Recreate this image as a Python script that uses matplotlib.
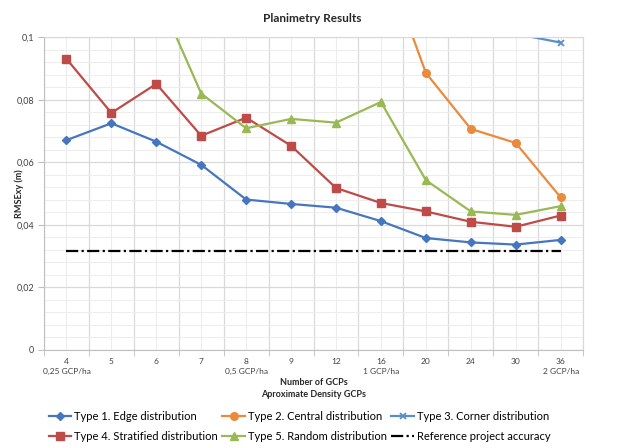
import matplotlib
matplotlib.use("Agg")
import matplotlib.pyplot as plt
from matplotlib.ticker import MultipleLocator, FixedLocator, FuncFormatter

plt.rcParams['font.family'] = ['Lato', 'DejaVu Sans']

# Number of GCPs and density labels on the x axis.
gcp_labels = ['4\n0,25 GCP/ha', '5', '6', '7', '8\n0,5 GCP/ha', '9', '12',
              '16\n1 GCP/ha', '20', '24', '30', '36\n2 GCP/ha']

# RMSExy (m) for each distribution type.
type1_edge = [0.0671, 0.0725, 0.0666, 0.0592, 0.0481, 0.0467, 0.0455,
              0.0412, 0.0358, 0.0344, 0.0337, 0.0352]
type2_central = [0.160, 0.155, 0.150, 0.145, 0.140, 0.135, 0.131,
                 0.128, 0.0886, 0.0707, 0.0662, 0.0488]
type3_corner = [0.190, 0.180, 0.170, 0.160, 0.150, 0.140, 0.130,
                0.120, 0.112, 0.106, 0.1011, 0.0983]
type4_stratified = [0.0931, 0.0758, 0.0851, 0.0685, 0.0743, 0.0653, 0.0518,
                    0.0470, 0.0443, 0.0410, 0.0394, 0.0430]
type5_random = [0.135, 0.125, 0.1146, 0.0820, 0.0709, 0.0739, 0.0727,
                0.0793, 0.0543, 0.0443, 0.0432, 0.0460]
reference_accuracy = [0.0316, 0.0316, 0.0316, 0.0316, 0.0316, 0.0316,
                      0.0316, 0.0316, 0.0316, 0.0316, 0.0316, 0.0316]

x = list(range(len(gcp_labels)))

fig = plt.figure(figsize=(6.24, 4.48), dpi=100)
ax = fig.add_axes([0.0705, 0.2188, 0.864, 0.698])

l1, = ax.plot(x, type1_edge, color='#4677BE', lw=1.6, marker='D', ms=4.2,
              label='Type 1. Edge distribution')
l2, = ax.plot(x, type2_central, color='#EB8A3D', lw=1.6, marker='o', ms=5.5,
              label='Type 2. Central distribution')
l3, = ax.plot(x, type3_corner, color='#5B8DC9', lw=1.6, marker='x', ms=5,
              mew=1.3, label='Type 3. Corner distribution')
l4, = ax.plot(x, type4_stratified, color='#BE4B48', lw=1.6, marker='s', ms=6,
              label='Type 4. Stratified distribution')
l5, = ax.plot(x, type5_random, color='#98B954', lw=1.6, marker='^', ms=6,
              label='Type 5. Random distribution')
l6, = ax.plot(x, reference_accuracy, color='black', lw=1.6,
              dashes=(5.5, 1.5, 1, 1.5), label='Reference project accuracy')

ax.set_xlim(-0.5, len(x) - 0.5)
ax.set_ylim(0, 0.1)

# Grid: category boundaries and centres, major and minor y steps.
ax.set_xticks(x)
ax.set_xticklabels(gcp_labels, fontsize=6, color='#404040', linespacing=1.5,
                   va='top')
ax.xaxis.set_minor_locator(FixedLocator([i - 0.5 for i in range(len(x) + 1)]))
ax.yaxis.set_major_locator(MultipleLocator(0.02))
ax.yaxis.set_minor_locator(MultipleLocator(0.004))
ax.yaxis.set_major_formatter(
    FuncFormatter(lambda v, p: ('%g' % round(v, 3)).replace('.', ',')))
ax.tick_params(axis='y', which='major', labelsize=6.5, labelcolor='#404040',
               length=4, color='#BFBFBF', pad=3)
ax.tick_params(axis='y', which='minor', length=0)
ax.tick_params(axis='x', which='major', length=0, pad=6)
ax.tick_params(axis='x', which='minor', length=4, color='#BFBFBF')

ax.grid(True, axis='x', which='minor', color='#D9D9D9', lw=0.9)
ax.grid(True, axis='x', which='major', color='#EDEDED', lw=0.8)
ax.grid(True, axis='y', which='major', color='#D9D9D9', lw=0.9)
ax.grid(True, axis='y', which='minor', color='#EDEDED', lw=0.8)
ax.set_axisbelow(True)
for side in ['top', 'right']:
    ax.spines[side].set_color('#D9D9D9')
for side in ['left', 'bottom']:
    ax.spines[side].set_color('#BFBFBF')

fig.text(0.5, 0.958, 'Planimetry Results', ha='center', va='center',
         fontsize=8.5, fontweight='bold', color='#262626')
ax.set_ylabel('RMSExy (m)', fontsize=6.5, fontweight='bold', color='#262626')
ax.yaxis.set_label_coords(-0.038, 0.5)
ax.set_xlabel('Number of GCPs\nAproximate Density GCPs', fontsize=6.5,
              fontweight='bold', color='#262626', labelpad=2, linespacing=1.4)

handles = [l1, l4, l2, l5, l3, l6]
fig.legend(handles, [h.get_label() for h in handles], ncol=3,
           loc='upper left', bbox_to_anchor=(0.078, 0.083),
           frameon=False, fontsize=8, handlelength=2.0, handletextpad=0.3,
           columnspacing=0.4, labelspacing=0.85, borderaxespad=0,
           borderpad=0)

fig.savefig('out.png', dpi=100)
